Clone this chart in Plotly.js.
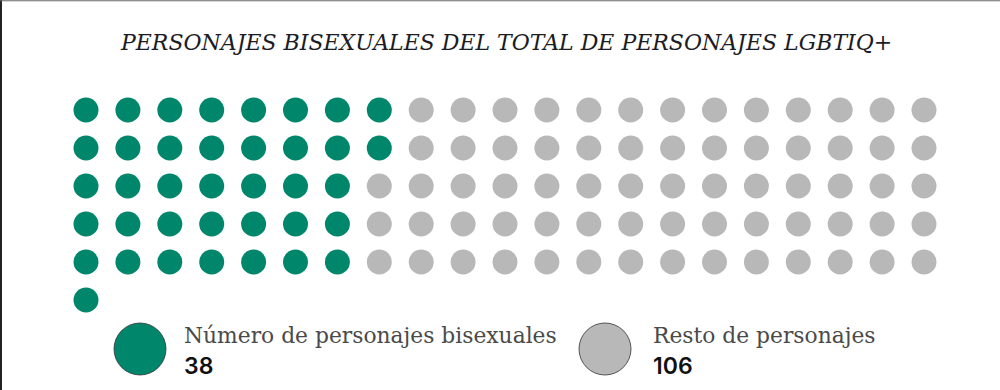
<!DOCTYPE html>
<html>
<head>
<meta charset="utf-8">
<script src="https://cdn.plot.ly/plotly-3.0.1.min.js"></script>
<style>
html,body{margin:0;padding:0;background:#fff;}
#chart{width:1000px;height:390px;}
</style>
</head>
<body>
<div id="chart"></div>
<script>
// ---- data ----
const title = "PERSONAJES BISEXUALES DEL TOTAL DE PERSONAJES LGBTIQ+";
const categories = ["Número de personajes bisexuales", "Resto de personajes"];
const totals = [38, 106];
const colors = ["#00876b", "#b8b8b8"];
// dots drawn in each row of the waffle (as in the picture)
const greenPerRow = [8, 8, 7, 7, 7, 1];
const dotsPerRow = [21, 21, 21, 21, 21, 1];

// ---- build dot grid ----
const gx = [], gy = [], rx = [], ry = [];
dotsPerRow.forEach((n, r) => {
  for (let c = 0; c < n; c++) {
    if (c < greenPerRow[r]) { gx.push(c); gy.push(r); }
    else { rx.push(c); ry.push(r); }
  }
});

const spacingX = 41.9, spacingY = 38.0, x0px = 86, y0px = 110;
const xr = [(0 - x0px) / spacingX, (1000 - x0px) / spacingX];
const yr = [(390 - y0px) / spacingY, (0 - y0px) / spacingY];

const traces = [
  {x: gx, y: gy, type: "scatter", mode: "markers", name: categories[0],
   marker: {color: colors[0], size: 25, line: {width: 0}}, hoverinfo: "skip"},
  {x: rx, y: ry, type: "scatter", mode: "markers", name: categories[1],
   marker: {color: colors[1], size: 25, line: {width: 0}}, hoverinfo: "skip"}
];

function circ(cx, cy, d, col) {
  return {type: "circle", xref: "paper", yref: "paper",
    x0: (cx - d / 2) / 1000, x1: (cx + d / 2) / 1000,
    y0: 1 - (cy + d / 2) / 390, y1: 1 - (cy - d / 2) / 390,
    fillcolor: col, line: {color: "#333", width: 0.8}};
}
const legX = [140, 605], legTextX = [182, 651];

const shapes = [
  circ(legX[0], 349, 52, colors[0]),
  circ(legX[1], 349, 52, colors[1]),
  {type: "line", xref: "paper", yref: "paper", x0: 0.001, x1: 0.001, y0: 0, y1: 1, line: {color: "#222", width: 2}},
  {type: "line", xref: "paper", yref: "paper", x0: 0, x1: 1, y0: 0.998, y1: 0.998, line: {color: "#666", width: 1}}
];

const annotations = [
  {text: "<i>" + title + "</i>", xref: "paper", yref: "paper", x: 0.506, y: 1 - 42 / 390,
   showarrow: false, xanchor: "center", yanchor: "middle",
   font: {family: "DejaVu Serif", size: 22, color: "#1c1c24"}}
];
categories.forEach((c, i) => {
  annotations.push({text: c, xref: "paper", yref: "paper", x: legTextX[i] / 1000, y: 1 - 335 / 390,
    showarrow: false, xanchor: "left", yanchor: "middle",
    font: {family: "DejaVu Serif", size: 21.8, color: "#4a4a4a", weight: 300}});
  annotations.push({text: String(totals[i]), xref: "paper", yref: "paper", x: legTextX[i] / 1000, y: 1 - 366 / 390,
    showarrow: false, xanchor: "left", yanchor: "middle",
    font: {family: "Inter", size: 23, color: "#111", weight: 600}});
});

const layout = {
  width: 1000, height: 390,
  margin: {l: 0, r: 0, t: 0, b: 0},
  paper_bgcolor: "#fff", plot_bgcolor: "#fff",
  showlegend: false,
  xaxis: {range: xr, visible: false, fixedrange: true},
  yaxis: {range: yr, visible: false, fixedrange: true},
  shapes: shapes,
  annotations: annotations
};

Plotly.newPlot("chart", traces, layout, {displayModeBar: false, staticPlot: true});
</script>
</body>
</html>
